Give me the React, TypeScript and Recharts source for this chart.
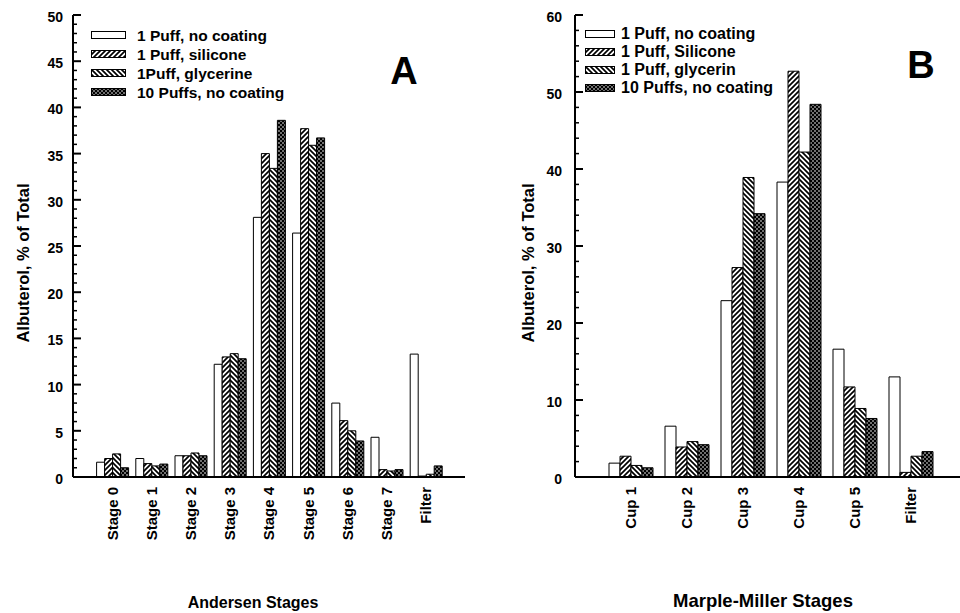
import React from 'react';
import { BarChart, Bar, XAxis, YAxis, Legend, Label } from 'recharts';

const FONT = '"Liberation Sans", Arial, Helvetica, sans-serif';

// Panel A - Andersen impactor
const andersenStages = ['Stage 0', 'Stage 1', 'Stage 2', 'Stage 3', 'Stage 4', 'Stage 5', 'Stage 6', 'Stage 7', 'Filter'];
const andersenNoCoating = [1.6, 2.0, 2.3, 12.2, 28.1, 26.4, 8.0, 4.3, 13.3];
const andersenSilicone = [2.0, 1.45, 2.3, 13.0, 35.0, 37.7, 6.1, 0.8, 0.1];
const andersenGlycerine = [2.5, 1.2, 2.6, 13.35, 33.4, 35.9, 5.0, 0.65, 0.3];
const andersenTenPuffs = [1.0, 1.4, 2.3, 12.8, 38.6, 36.7, 3.9, 0.8, 1.2];
const andersenLegend = ['1 Puff, no coating', '1 Puff, silicone', '1Puff, glycerine', '10 Puffs, no coating'];
const andersenMajorTicks = [0, 5, 10, 15, 20, 25, 30, 35, 40, 45, 50];
const andersenMinorStep = 1;

// Panel B - Marple-Miller impactor
const marpleStages = ['Cup 1', 'Cup 2', 'Cup 3', 'Cup 4', 'Cup 5', 'Filter'];
const marpleNoCoating = [1.8, 6.6, 22.9, 38.3, 16.6, 13.0];
const marpleSilicone = [2.7, 3.9, 27.2, 52.7, 11.7, 0.6];
const marpleGlycerin = [1.5, 4.6, 38.9, 42.2, 8.9, 2.7];
const marpleTenPuffs = [1.2, 4.2, 34.2, 48.4, 7.6, 3.3];
const marpleLegend = ['1 Puff, no coating', '1 Puff, Silicone', '1 Puff, glycerin', '10 Puffs, no coating'];
const marpleMajorTicks = [0, 10, 20, 30, 40, 50, 60];
const marpleMinorStep = 2;

const seriesKeys = ['noCoating', 'silicone', 'glycerine', 'tenPuffs'];
const patternKinds = ['plain', 'fwd', 'back', 'dots'];

const buildRows = (stages: string[], cols: number[][]) =>
  stages.map((stage, i) => {
    const row: any = { stage };
    seriesKeys.forEach((k, j) => (row[k] = cols[j][i]));
    return row;
  });

const andersenData = buildRows(andersenStages, [andersenNoCoating, andersenSilicone, andersenGlycerine, andersenTenPuffs]);
const marpleData = buildRows(marpleStages, [marpleNoCoating, marpleSilicone, marpleGlycerin, marpleTenPuffs]);

const tickRange = (max: number, step: number) => {
  const out: number[] = [];
  for (let v = 0; v <= max; v += step) out.push(v);
  return out;
};

const Patterns = ({ prefix }: { prefix: string }) => (
  <>
    <pattern id={`${prefix}-fwd`} patternUnits="userSpaceOnUse" width={5} height={5}>
      <rect width={5} height={5} fill="#fff" />
      <path d="M-1,1 L1,-1 M0,5 L5,0 M4,6 L6,4" stroke="#000" strokeWidth={1.7} />
    </pattern>
    <pattern id={`${prefix}-back`} patternUnits="userSpaceOnUse" width={5} height={5}>
      <rect width={5} height={5} fill="#fff" />
      <path d="M-1,4 L1,6 M0,0 L5,5 M4,-1 L6,1" stroke="#000" strokeWidth={1.7} />
    </pattern>
    <pattern id={`${prefix}-dots`} patternUnits="userSpaceOnUse" width={4} height={4}>
      <rect width={4} height={4} fill="#000" />
      <circle cx={1} cy={1} r={0.8} fill="#fff" />
      <circle cx={3} cy={3} r={0.8} fill="#fff" />
    </pattern>
  </>
);

const fillFor = (prefix: string, kind: string) => (kind === 'plain' ? '#fff' : `url(#${prefix}-${kind})`);

const makeYTick = (majors: number[], gap: number) => (props: any) => {
  const { x, y, payload } = props;
  const isMajor = majors.includes(payload.value);
  return (
    <g>
      <line x1={x} x2={x + (isMajor ? 8 : 4)} y1={y} y2={y} stroke="#000" strokeWidth={isMajor ? 2 : 1.5} />
      {isMajor && (
        <text x={x - gap} y={y} dy={7} textAnchor="end" fontFamily={FONT} fontWeight="bold" fontSize={14} fill="#000">
          {payload.value}
        </text>
      )}
    </g>
  );
};

const XTick = (props: any) => {
  const { x, y, payload } = props;
  return (
    <g transform={`translate(${x},${y})`}>
      <text transform="rotate(-90)" x={-10} y={0} dy="0.36em" textAnchor="end" fontFamily={FONT} fontWeight="bold" fontSize={15} fill="#000">
        {payload.value}
      </text>
    </g>
  );
};

const LegendBox = ({ labels, prefix, swatchW, rowH, textGap, fontSize }: any) => (
  <div style={{ fontFamily: FONT, fontWeight: 'bold', fontSize, color: '#000', lineHeight: `${rowH}px` }}>
    {labels.map((label: string, i: number) => (
      <div key={label} style={{ display: 'flex', alignItems: 'center', height: rowH, whiteSpace: 'nowrap' }}>
        <svg width={swatchW + 1} height={9} style={{ marginRight: textGap }}>
          <defs>
            <Patterns prefix={`${prefix}-lg${i}`} />
          </defs>
          <rect x={0.5} y={0.5} width={swatchW} height={7} fill={fillFor(`${prefix}-lg${i}`, patternKinds[i])} stroke="#000" strokeWidth={1} />
        </svg>
        <span>{label}</span>
      </div>
    ))}
  </div>
);

interface PanelProps {
  id: string;
  data: any[];
  width: number;
  plotRight: number;
  yAxisWidth: number;
  yMax: number;
  majors: number[];
  minorStep: number;
  labelGap: number;
  xPad: number;
  barSize: number;
  legendLabels: string[];
  legendPos: { left: number; top: number };
  legendFont: number;
  swatchW: number;
  rowH: number;
  textGap: number;
  yTitleX: number;
  xTitle: string;
  xTitleX: number;
  xTitleY: number;
  xTitleSize: number;
}

const Panel = (p: PanelProps) => {
  const ticks = tickRange(p.yMax, p.minorStep);
  return (
    <BarChart
      width={p.width}
      height={613}
      data={p.data}
      margin={{ top: 15, right: p.width - p.plotRight, bottom: 0, left: 0 }}
      barGap={0}
    >
      <defs>
        <Patterns prefix={p.id} />
      </defs>
      <XAxis
        dataKey="stage"
        height={136}
        padding={{ left: p.xPad, right: p.xPad }}
        axisLine={{ stroke: '#000', strokeWidth: 2 }}
        tickLine={false}
        tickSize={0}
        tickMargin={0}
        interval={0}
        tick={<XTick />}
      >
        <Label
          content={() => (
            <text x={p.xTitleX} y={p.xTitleY} textAnchor="middle" fontFamily={FONT} fontWeight="bold" fontSize={p.xTitleSize} fill="#000">
              {p.xTitle}
            </text>
          )}
        />
      </XAxis>
      <XAxis
        xAxisId="top"
        orientation="top"
        dataKey="stage"
        height={0}
        padding={{ left: p.xPad, right: p.xPad }}
        axisLine={{ stroke: '#000', strokeWidth: 2 }}
        tick={false}
        tickLine={false}
      />
      <YAxis
        type="number"
        domain={[0, p.yMax]}
        ticks={ticks}
        interval={0}
        width={p.yAxisWidth}
        axisLine={{ stroke: '#000', strokeWidth: 2 }}
        tickLine={false}
        tickSize={0}
        tickMargin={0}
        tick={makeYTick(p.majors, p.labelGap)}
      >
        <Label
          content={() => (
            <text
              x={p.yTitleX}
              y={263}
              transform={`rotate(-90, ${p.yTitleX}, 263)`}
              textAnchor="middle"
              dy="0.36em"
              fontFamily={FONT}
              fontWeight="bold"
              fontSize={16.5}
              fill="#000"
            >
              Albuterol, % of Total
            </text>
          )}
        />
      </YAxis>
      <YAxis
        yAxisId="right"
        orientation="right"
        domain={[0, p.yMax]}
        width={0}
        axisLine={{ stroke: '#000', strokeWidth: 2 }}
        tick={false}
        tickLine={false}
      />
      <Legend
        layout="vertical"
        align="center"
        verticalAlign="middle"
        wrapperStyle={{ left: p.legendPos.left, top: p.legendPos.top, width: 'auto', height: 'auto' }}
        content={() => (
          <LegendBox labels={p.legendLabels} prefix={p.id} swatchW={p.swatchW} rowH={p.rowH} textGap={p.textGap} fontSize={p.legendFont} />
        )}
      />
      {seriesKeys.map((k, i) => (
        <Bar
          key={k}
          dataKey={k}
          name={p.legendLabels[i]}
          fill={fillFor(p.id, patternKinds[i])}
          stroke="#000"
          strokeWidth={1}
          barSize={p.barSize}
          isAnimationActive={false}
        />
      ))}
    </BarChart>
  );
};

const letterStyle: React.CSSProperties = {
  position: 'absolute',
  fontFamily: FONT,
  fontWeight: 'bold',
  fontSize: 38,
  lineHeight: '38px',
  color: '#000',
  transform: 'translateX(-50%)',
};

export default function App() {
  return (
    <div style={{ position: 'absolute', left: 0, top: 0, width: 960, height: 613, overflow: 'hidden', background: '#fff' }}>
      <div style={{ position: 'absolute', left: 0, top: 0 }}>
        <Panel
          id="pa"
          data={andersenData}
          width={480}
          plotRight={465}
          yAxisWidth={73}
          yMax={50}
          majors={andersenMajorTicks}
          minorStep={andersenMinorStep}
          labelGap={10}
          xPad={19.6}
          barSize={8}
          legendLabels={andersenLegend}
          legendPos={{ left: 91, top: 26 }}
          legendFont={15.5}
          swatchW={34}
          rowH={19}
          textGap={11}
          yTitleX={23}
          xTitle="Andersen Stages"
          xTitleX={253}
          xTitleY={608}
          xTitleSize={16}
        />
      </div>
      <div style={{ position: 'absolute', left: 480, top: 0 }}>
        <Panel
          id="pb"
          data={marpleData}
          width={500}
          plotRight={487}
          yAxisWidth={95}
          yMax={60}
          majors={marpleMajorTicks}
          minorStep={marpleMinorStep}
          labelGap={13}
          xPad={28}
          barSize={11}
          legendLabels={marpleLegend}
          legendPos={{ left: 105, top: 25 }}
          legendFont={16}
          swatchW={29}
          rowH={18}
          textGap={6}
          yTitleX={48}
          xTitle="Marple-Miller Stages"
          xTitleX={283}
          xTitleY={607}
          xTitleSize={18.5}
        />
      </div>
      <div style={{ ...letterStyle, left: 404, top: 52 }}>A</div>
      <div style={{ ...letterStyle, left: 921, top: 46 }}>B</div>
    </div>
  );
}
